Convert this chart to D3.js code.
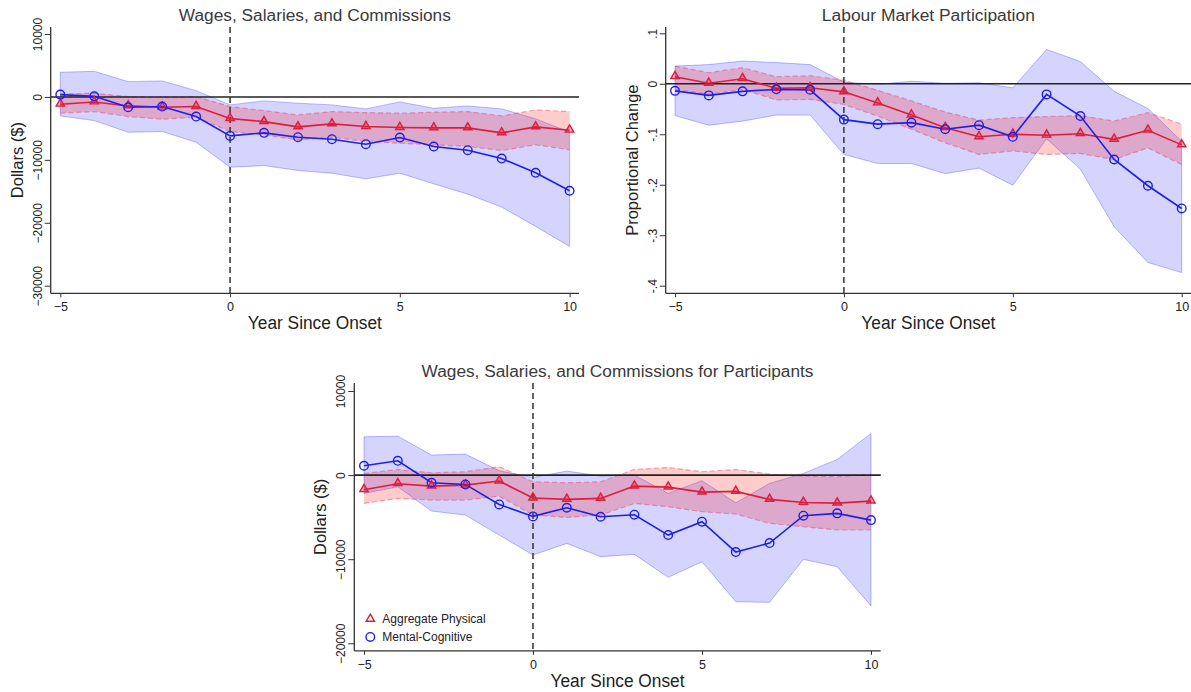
<!DOCTYPE html>
<html>
<head>
<meta charset="utf-8">
<script src="https://cdn.jsdelivr.net/npm/d3@7"></script>
<style>
  body { margin: 0; background: #fff; }
  svg { display: block; font-family: "Liberation Sans", Arial, sans-serif; }
</style>
</head>
<body>
<svg id="chart" width="1191" height="692"></svg>
<script>
// 事象発生からの年数
const years = [-5, -4, -3, -2, -1, 0, 1, 2, 3, 4, 5, 6, 7, 8, 9, 10];
const xTicks = [-5, 0, 5, 10];

// Wages, Salaries, and Commissions
const wagesPhys   = [-1160, -800, -1430, -1640, -1530, -3440, -3920, -4760, -4290, -4710, -4870, -4920, -4920, -5710, -4760, -5290];
const wagesPhysHi = [480, 580, 50, -50, 50, -1530, -2170, -2860, -2330, -2490, -2590, -2430, -2330, -3020, -2060, -2330];
const wagesPhysLo = [-2590, -2330, -3120, -3540, -3230, -5500, -6030, -6830, -6400, -7090, -7350, -7620, -7880, -8520, -7620, -8410];
const wagesMent   = [370, 100, -1640, -1530, -3120, -6190, -5710, -6400, -6720, -7510, -6460, -7880, -8470, -9790, -12060, -14920];
const wagesMentHi = [3920, 4070, 2430, 2540, 1000, -1270, -630, -1000, -1270, -1900, -790, -1800, -1430, -1900, -3490, -5600];
const wagesMentLo = [-3020, -3760, -5610, -5500, -7200, -11160, -10900, -11690, -12120, -13020, -12120, -13810, -15450, -17510, -20580, -23760];
const wagesTicks = [10000, 0, -10000, -20000, -30000];

// Labour Market Participation
const partPhys   = [0.014, 0.001, 0.010, -0.009, -0.008, -0.016, -0.038, -0.062, -0.087, -0.105, -0.100, -0.102, -0.099, -0.110, -0.092, -0.121];
const partPhysHi = [0.035, 0.022, 0.032, 0.014, 0.016, 0.007, -0.013, -0.034, -0.056, -0.072, -0.067, -0.065, -0.063, -0.074, -0.057, -0.080];
const partPhysLo = [-0.011, -0.021, -0.011, -0.032, -0.031, -0.041, -0.064, -0.090, -0.117, -0.140, -0.133, -0.140, -0.138, -0.150, -0.127, -0.160];
const partMent   = [-0.014, -0.023, -0.015, -0.011, -0.012, -0.071, -0.080, -0.077, -0.090, -0.082, -0.105, -0.021, -0.064, -0.150, -0.202, -0.247];
const partMentHi = [0.035, 0.038, 0.045, 0.042, 0.038, 0.003, -0.001, 0.005, 0.001, 0.002, -0.008, 0.068, 0.044, -0.015, -0.049, -0.114];
const partMentLo = [-0.063, -0.082, -0.074, -0.062, -0.062, -0.140, -0.158, -0.158, -0.178, -0.167, -0.201, -0.109, -0.169, -0.283, -0.354, -0.374];
const partTicks = [0.1, 0, -0.1, -0.2, -0.3, -0.4];
const partTickLabels = ['.1', '0', '-.1', '-.2', '-.3', '-.4'];

// Wages, Salaries, and Commissions for Participants
const partWagesPhys   = [-1740, -1030, -1310, -1190, -710, -2730, -2890, -2770, -1310, -1430, -2020, -1940, -2890, -3250, -3330, -3090];
const partWagesPhysHi = [200, 670, 280, 400, 990, -790, -910, -790, 670, 910, 400, 670, 120, -120, -200, 120];
const partWagesPhysLo = [-3370, -2770, -2970, -2970, -2500, -4750, -5030, -4750, -3370, -3760, -4360, -4630, -5740, -6140, -6530, -6530];
const partWagesMent   = [1110, 1700, -910, -1110, -3490, -4910, -3880, -4950, -4710, -7130, -5540, -9150, -8080, -4830, -4550, -5350];
const partWagesMentHi = [4550, 4630, 2380, 2500, 510, -280, 480, -120, 0, -2180, -670, -3290, -990, 200, 1860, 4950];
const partWagesMentLo = [-2180, -1390, -4280, -4750, -7130, -9500, -8120, -9700, -9430, -12160, -10300, -15050, -15130, -10020, -10890, -15560];
const partWagesTicks = [10000, 0, -10000, -20000];

const legendLabels = ['Aggregate Physical', 'Mental-Cognitive'];

const RED = '#dc1e3c';
const BLUE = '#1f1fe6';

const svg = d3.select('#chart');

const drawPanel = ({ title, titleLen, yTitle, left, right, top, bottom, x0, x1, yDom, yRng, ticks, tickFmt, series, legend }) => {
  const g = svg.append('g');
  const x = d3.scaleLinear().domain([-5, 10]).range([x0, x1]);
  const y = d3.scaleLinear().domain(yDom).range(yRng);

  const area = (lo, hi) => d3.area()
    .x((d, i) => x(years[i]))
    .y0((d, i) => y(lo[i]))
    .y1((d, i) => y(hi[i]))(years);
  const line = d3.line().x((d, i) => x(years[i])).y(d => y(d));

  // 信頼区間の帯（青を先に、赤を上に重ねる）
  g.append('path')
    .attr('d', area(series.mentLo, series.mentHi))
    .attr('fill', 'rgba(0,0,255,0.17)')
    .attr('stroke', 'rgba(60,60,255,0.35)')
    .attr('stroke-width', 1);
  g.append('path')
    .attr('d', area(series.physLo, series.physHi))
    .attr('fill', 'rgba(255,0,0,0.2)')
    .attr('stroke', 'none');
  [series.physHi, series.physLo].forEach(arr => {
    g.append('path')
      .attr('d', line(arr))
      .attr('fill', 'none')
      .attr('stroke', 'rgba(230,60,90,0.45)')
      .attr('stroke-width', 1.2)
      .attr('stroke-dasharray', '5,3');
  });

  // ゼロ線と発症年の点線
  g.append('line')
    .attr('x1', left).attr('x2', right)
    .attr('y1', y(0)).attr('y2', y(0))
    .attr('stroke', '#222').attr('stroke-width', 1.6);
  g.append('line')
    .attr('x1', x(0)).attr('x2', x(0))
    .attr('y1', top).attr('y2', bottom)
    .attr('stroke', '#333').attr('stroke-width', 1.5)
    .attr('stroke-dasharray', '6,4');

  g.append('path')
    .attr('d', line(series.phys))
    .attr('fill', 'none').attr('stroke', RED).attr('stroke-width', 1.6);
  g.append('path')
    .attr('d', line(series.ment))
    .attr('fill', 'none').attr('stroke', BLUE).attr('stroke-width', 1.6);

  const tri = d3.symbol().type(d3.symbolTriangle).size(30);
  g.selectAll('.tri').data(series.phys).join('path')
    .attr('d', tri)
    .attr('transform', (d, i) => `translate(${x(years[i])},${y(d) - 0.5})`)
    .attr('fill', 'rgba(220,30,60,0.35)').attr('stroke', RED).attr('stroke-width', 1.4);
  g.selectAll('.circ').data(series.ment).join('circle')
    .attr('cx', (d, i) => x(years[i])).attr('cy', d => y(d)).attr('r', 4.3)
    .attr('fill', 'none').attr('stroke', BLUE).attr('stroke-width', 1.4);

  // 軸
  const yAxis = g.append('g')
    .attr('transform', `translate(${left},0)`)
    .attr('font-family', null)
    .call(d3.axisLeft(y).tickValues(ticks).tickFormat(tickFmt).tickSize(6).tickPadding(0));
  yAxis.select('.domain').remove();
  yAxis.selectAll('line').attr('stroke', '#333');
  // 目盛ラベルはStata風に90度回転
  yAxis.selectAll('text')
    .attr('x', -13).attr('dy', null)
    .attr('text-anchor', 'middle')
    .attr('dominant-baseline', 'central')
    .attr('transform', 'rotate(-90,-13,0)')
    .attr('font-size', 12).attr('fill', '#222');

  const xAxis = g.append('g')
    .attr('transform', `translate(0,${bottom})`)
    .attr('font-family', null)
    .call(d3.axisBottom(x).tickValues(xTicks).tickFormat(d3.format('d')).tickSize(4).tickPadding(5));
  xAxis.select('.domain').remove();
  xAxis.selectAll('line').attr('stroke', '#333');
  xAxis.selectAll('text').attr('font-size', 12.5).attr('fill', '#222');

  g.append('line')
    .attr('x1', left).attr('x2', left).attr('y1', top).attr('y2', bottom)
    .attr('stroke', '#333').attr('stroke-width', 1.3);
  g.append('line')
    .attr('x1', left).attr('x2', right).attr('y1', bottom).attr('y2', bottom)
    .attr('stroke', '#333').attr('stroke-width', 1.3);

  g.append('text')
    .attr('x', (left + right) / 2 - titleLen / 2).attr('y', top - 6.5)
    .attr('font-size', 16).attr('fill', '#3a3a3a')
    .attr('textLength', titleLen).attr('lengthAdjust', 'spacingAndGlyphs')
    .text(title);
  g.append('text')
    .attr('x', (left + right) / 2 - 67).attr('y', bottom + 36)
    .attr('font-size', 18).attr('fill', '#222')
    .attr('textLength', 134).attr('lengthAdjust', 'spacingAndGlyphs')
    .text('Year Since Onset');
  const yc = (top + bottom) / 2;
  g.append('text')
    .attr('transform', `translate(${left - 34},${yc}) rotate(-90)`)
    .attr('text-anchor', 'middle').attr('dominant-baseline', 'central')
    .attr('font-size', 16.5).attr('fill', '#222')
    .text(yTitle);

  if (legend) {
    const lx = left + 16;
    const ly = y(-17100);
    g.append('path').attr('d', tri)
      .attr('transform', `translate(${lx},${ly})`)
      .attr('fill', 'none').attr('stroke', RED).attr('stroke-width', 1.4);
    g.append('circle').attr('cx', lx).attr('cy', ly + 18).attr('r', 4.3)
      .attr('fill', 'none').attr('stroke', BLUE).attr('stroke-width', 1.4);
    legendLabels.forEach((t, i) => {
      g.append('text')
        .attr('x', lx + 12).attr('y', ly + i * 18)
        .attr('dominant-baseline', 'central')
        .attr('font-size', 12).attr('fill', '#222')
        .text(t);
    });
  }
};

const dollarFmt = d3.format('d');

drawPanel({
  title: 'Wages, Salaries, and Commissions', titleLen: 272, yTitle: 'Dollars ($)',
  left: 50.7, right: 579, top: 27, bottom: 293.3, x0: 60.3, x1: 569.6,
  yDom: [-30000, 10000], yRng: [285.7, 34], ticks: wagesTicks, tickFmt: dollarFmt,
  series: { phys: wagesPhys, physLo: wagesPhysLo, physHi: wagesPhysHi, ment: wagesMent, mentLo: wagesMentLo, mentHi: wagesMentHi }
});

drawPanel({
  title: 'Labour Market Participation', titleLen: 213, yTitle: 'Proportional Change',
  left: 665.7, right: 1191, top: 27, bottom: 293.3, x0: 675, x1: 1181.7,
  yDom: [-0.4, 0.1], yRng: [285.7, 33.3], ticks: partTicks,
  tickFmt: (d, i) => partTickLabels[i],
  series: { phys: partPhys, physLo: partPhysLo, physHi: partPhysHi, ment: partMent, mentLo: partMentLo, mentHi: partMentHi }
});

drawPanel({
  title: 'Wages, Salaries, and Commissions for Participants', titleLen: 392, yTitle: 'Dollars ($)',
  left: 354.3, right: 880.7, top: 383, bottom: 650.8, x0: 364, x1: 871,
  yDom: [-20000, 10000], yRng: [643.3, 391], ticks: partWagesTicks, tickFmt: dollarFmt,
  series: { phys: partWagesPhys, physLo: partWagesPhysLo, physHi: partWagesPhysHi, ment: partWagesMent, mentLo: partWagesMentLo, mentHi: partWagesMentHi },
  legend: true
});
</script>
</body>
</html>
